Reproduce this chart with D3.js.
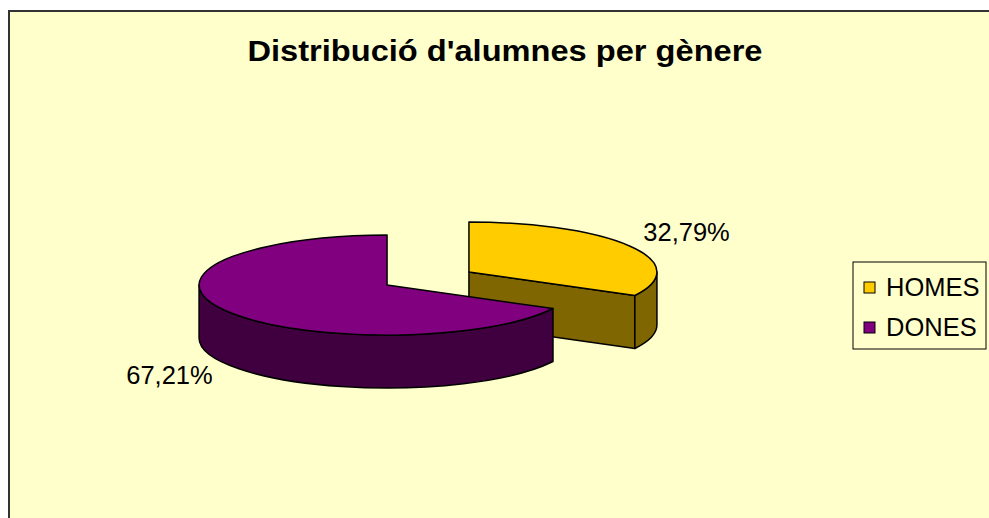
<!DOCTYPE html>
<html>
<head>
<meta charset="utf-8">
<script src="https://cdn.jsdelivr.net/npm/d3@7"></script>
<style>
    body { margin: 0; background: #fff; }
    svg text { font-family: "Liberation Sans", Arial, sans-serif; fill: #000; }
</style>
</head>
<body>
<svg id="chart"></svg>
<script>
    const title = "Distribució d'alumnes per gènere";
    const categories = ["HOMES", "DONES"];
    const values = [32.79, 67.21];
    const valueLabels = ["32,79%", "67,21%"];
    const topColors = ["#FFCC00", "#800080"];
    const sideColors = ["#806600", "#400040"];

    const width = 989;
    const height = 518;

    const svg = d3.select("#chart")
        .attr("width", width)
        .attr("height", height);

    // chart area (only left and top border are in the window)
    svg.append("rect")
        .attr("x", 9)
        .attr("y", 11)
        .attr("width", width + 20)
        .attr("height", height + 20)
        .attr("fill", "#FFFFCC")
        .attr("stroke", "#333")
        .attr("stroke-width", 2);

    svg.append("text")
        .attr("x", 505)
        .attr("y", 61)
        .attr("text-anchor", "middle")
        .attr("textLength", 515)
        .attr("lengthAdjust", "spacingAndGlyphs")
        .style("font-size", "29px")
        .style("font-weight", "bold")
        .text(title);

    // 3d pie
    const cx = 428, cy = 278.5;
    const rx = 188, ry = 50;
    const depth = 53;
    const explode = 0.254;

    const pie = d3.pie().sort(null).startAngle(0).endAngle(2 * Math.PI);
    const arcs = pie(values).map((a, i) => {
        const mid = (a.startAngle + a.endAngle) / 2;
        return {
            ...a,
            i,
            mid,
            ox: cx + explode * rx * Math.sin(mid),
            oy: cy - explode * ry * Math.cos(mid)
        };
    });

    const pt = (d, t, dy = 0) => [d.ox + rx * Math.sin(t), d.oy - ry * Math.cos(t) + dy];

    function topPath(d) {
        const p0 = pt(d, d.startAngle), p1 = pt(d, d.endAngle);
        const large = d.endAngle - d.startAngle > Math.PI ? 1 : 0;
        return `M${d.ox},${d.oy}L${p0}A${rx},${ry} 0 ${large} 1 ${p1}Z`;
    }

    function wallPath(d, a0, a1) {
        const t0 = pt(d, a0), t1 = pt(d, a1);
        const b0 = pt(d, a0, depth), b1 = pt(d, a1, depth);
        const large = a1 - a0 > Math.PI ? 1 : 0;
        return `M${t0}A${rx},${ry} 0 ${large} 1 ${t1}L${b1}A${rx},${ry} 0 ${large} 0 ${b0}Z`;
    }

    function cutPath(d, a) {
        const p = pt(d, a);
        return `M${d.ox},${d.oy}L${p}L${p[0]},${p[1] + depth}L${d.ox},${d.oy + depth}Z`;
    }

    const pieG = svg.append("g");
    const drawOrder = arcs.slice().sort((a, b) => a.oy - b.oy);

    drawOrder.forEach(d => {
        const g = pieG.append("g");
        const faces = [];
        if (Math.sin(d.startAngle) < -1e-6) faces.push(cutPath(d, d.startAngle));
        if (Math.sin(d.endAngle) > 1e-6) faces.push(cutPath(d, d.endAngle));
        // front part of the outer wall lies between 90 and 270 degrees
        const a0 = Math.max(d.startAngle, Math.PI / 2);
        const a1 = Math.min(d.endAngle, 3 * Math.PI / 2);
        if (a1 > a0) faces.push(wallPath(d, a0, a1));

        faces.forEach(f => {
            g.append("path")
                .attr("d", f)
                .attr("fill", sideColors[d.i])
                .attr("stroke", "#000")
                .attr("stroke-width", 1.5)
                .attr("stroke-linejoin", "round");
        });
        g.append("path")
            .attr("d", topPath(d))
            .attr("fill", topColors[d.i])
            .attr("stroke", "#000")
            .attr("stroke-width", 1.5)
            .attr("stroke-linejoin", "round");
    });

    // data labels
    svg.selectAll(".value-label")
        .data(arcs)
        .enter().append("text")
        .attr("class", "value-label")
        .attr("text-anchor", "middle")
        .attr("x", d => d.ox + 1.35 * rx * Math.sin(d.mid))
        .attr("y", d => d.oy - 1.45 * ry * Math.cos(d.mid) + (Math.cos(d.mid) < 0 ? depth + 3 : 0) + 6)
        .style("font-size", "25.5px")
        .text(d => valueLabels[d.i]);

    // legend
    const legend = svg.append("g").attr("transform", "translate(853,262)");
    legend.append("rect")
        .attr("width", 133)
        .attr("height", 87)
        .attr("fill", "#FFFFCC")
        .attr("stroke", "#000")
        .attr("stroke-width", 1);

    const item = legend.selectAll(".item")
        .data(categories)
        .enter().append("g")
        .attr("class", "item")
        .attr("transform", (d, i) => `translate(0,${20 + i * 40})`);

    item.append("rect")
        .attr("x", 11)
        .attr("y", 0)
        .attr("width", 11)
        .attr("height", 11)
        .attr("fill", (d, i) => topColors[i])
        .attr("stroke", "#000")
        .attr("stroke-width", 1);

    item.append("text")
        .attr("x", 33)
        .attr("y", 14)
        .style("font-size", "25.5px")
        .text(d => d);
</script>
</body>
</html>
